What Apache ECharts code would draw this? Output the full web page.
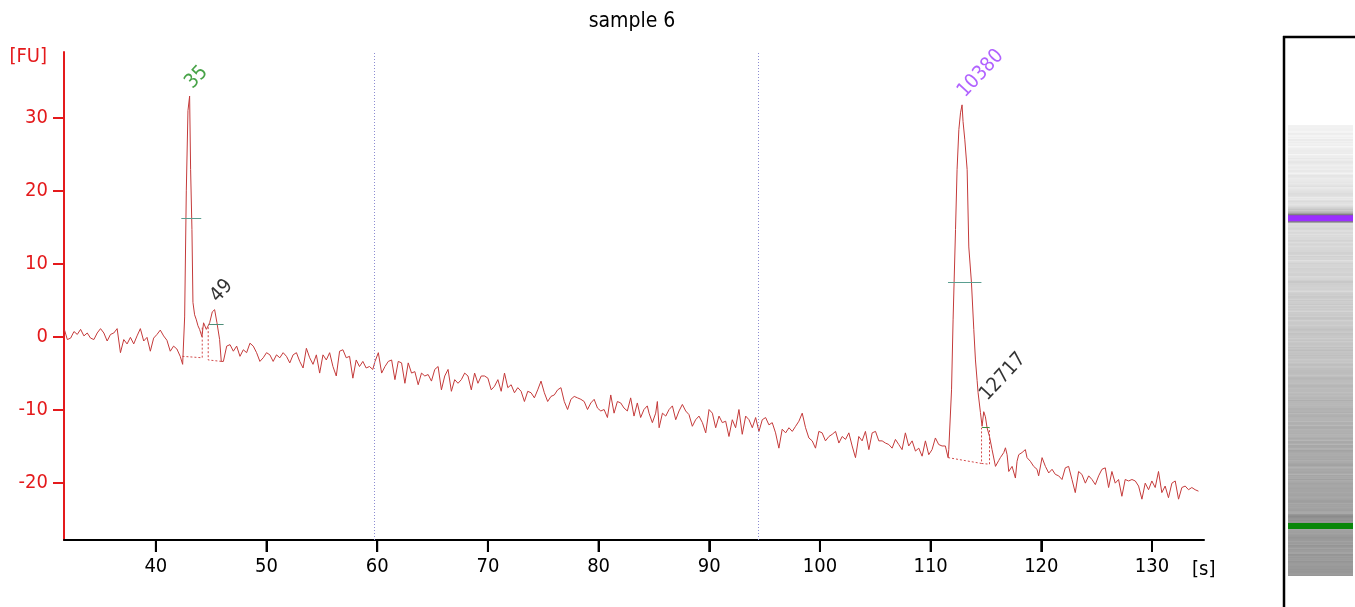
<!DOCTYPE html>
<html>
<head>
<meta charset="utf-8">
<script src="https://cdn.jsdelivr.net/npm/echarts@6.0.0/dist/echarts.min.js"></script>
<style>
    html, body { margin: 0; padding: 0; background: #fff; }
    #main { width: 1355px; height: 607px; }
</style>
</head>
<body>
<div id="main"></div>
<script>
    // electropherogram trace, [time s, FU]
    var segA = [
        [31.75, 0.9], [32.0, -0.4], [32.3, -0.2], [32.6, 0.7], [32.9, 0.3], [33.2, 1.0], [33.5, 0.1],
        [33.8, 0.5], [34.1, -0.2], [34.4, -0.4], [34.7, 0.5], [35.0, 1.1], [35.3, 0.5], [35.6, -0.6],
        [35.9, 0.3], [36.2, 0.5], [36.5, 1.1], [36.8, -2.2], [37.1, -0.4], [37.4, -1.0], [37.7, -0.1],
        [38.0, -1.0], [38.3, 0.1], [38.6, 1.1], [38.9, -0.6], [39.2, -0.1], [39.5, -2.0], [39.8, -0.2],
        [40.1, 0.3], [40.4, 0.9], [40.7, 0.1], [41.0, -0.5], [41.3, -2.0], [41.6, -1.3], [41.9, -1.7],
        [42.2, -2.7]
    ];
    var peak35 = [
        [42.42, -3.8], [42.6, 2.7], [42.75, 20.0], [42.9, 31.0], [43.05, 33.0], [43.14, 22.9],
        [43.26, 14.7], [43.35, 4.7], [43.5, 3.0], [43.66, 2.3], [43.8, 1.5], [43.95, 1.0], [44.16, 0.0],
        [44.31, 1.9], [44.56, 1.0], [44.86, 1.9], [45.1, 3.4], [45.31, 3.7], [45.52, 1.9], [45.76, -0.4],
        [45.91, -3.4], [46.1, -3.4]
    ];
    var segB = [
        [46.4, -1.3], [46.7, -1.1], [47.0, -2.0], [47.3, -1.3], [47.6, -2.7], [47.9, -1.8], [48.2, -2.2],
        [48.5, -0.9], [48.8, -1.3], [49.1, -2.2], [49.4, -3.4], [49.7, -2.9], [50.0, -2.2], [50.3, -2.5],
        [50.6, -3.4], [50.9, -2.5], [51.2, -2.9], [51.5, -2.2], [51.8, -2.7], [52.1, -3.6], [52.4, -2.5],
        [52.7, -2.2], [53.0, -3.4], [53.3, -4.3], [53.6, -1.6], [53.9, -2.9], [54.2, -3.8], [54.5, -2.5],
        [54.8, -5.0], [55.1, -2.5], [55.4, -3.2], [55.7, -2.2], [56.0, -4.1], [56.3, -5.4], [56.6, -2.0],
        [56.9, -1.8], [57.2, -2.9]
    ];
    var segC = [
        [57.5, -2.7], [57.8, -5.7], [58.1, -3.2], [58.4, -4.1], [58.7, -3.4], [59.0, -4.3], [59.3, -4.1],
        [59.6, -4.5], [59.8, -3.4], [60.1, -2.2], [60.4, -5.0], [60.7, -4.1], [61.0, -3.4], [61.3, -3.2],
        [61.6, -5.9], [61.9, -3.4], [62.2, -3.6], [62.5, -6.4], [62.8, -3.6], [63.1, -5.0], [63.4, -4.8],
        [63.7, -6.6], [64.0, -5.0], [64.3, -5.4], [64.6, -5.2], [64.9, -6.1], [65.2, -4.5], [65.5, -4.1],
        [65.8, -7.3], [66.1, -5.4], [66.4, -4.5], [66.7, -7.5], [67.0, -5.9], [67.3, -6.4], [67.6, -5.9],
        [67.9, -5.0], [68.2, -5.4], [68.5, -7.3], [68.8, -5.0], [69.1, -6.4], [69.4, -5.4], [69.7, -5.4],
        [70.0, -5.7], [70.3, -7.3], [70.6, -6.8], [70.9, -5.9], [71.2, -7.5], [71.5, -5.0], [71.8, -7.0],
        [72.1, -6.6], [72.4, -7.7], [72.7, -7.0], [73.0, -7.5], [73.3, -8.9], [73.6, -7.5], [73.9, -7.7],
        [74.2, -8.4], [74.5, -7.3], [74.8, -6.1], [75.1, -7.7], [75.4, -8.9], [75.7, -8.2], [76.0, -8.0],
        [76.3, -7.3], [76.6, -7.0], [76.9, -8.9], [77.2, -10.0], [77.5, -8.6], [77.8, -8.2], [78.1, -8.4],
        [78.4, -8.6], [78.7, -8.9], [79.0, -10.0], [79.3, -9.1], [79.6, -8.6], [79.9, -9.8], [80.2, -10.2],
        [80.5, -10.0], [80.8, -11.1], [81.1, -8.0], [81.4, -10.5], [81.7, -8.9], [82.0, -9.1], [82.3, -9.8],
        [82.6, -10.2], [82.9, -8.4], [83.2, -10.9], [83.5, -9.1], [83.8, -11.1], [84.1, -10.0], [84.4, -9.5]
    ];
    var segD = [
        [84.56, -10.5], [84.86, -11.8], [85.16, -10.5], [85.31, -8.9], [85.47, -12.5], [85.77, -10.5],
        [86.07, -10.9], [86.37, -10.0], [86.67, -9.5], [86.97, -11.4], [87.27, -10.2], [87.57, -9.3],
        [87.87, -10.2], [88.17, -10.7], [88.47, -12.3], [88.77, -11.4], [89.07, -10.9], [89.38, -11.8],
        [89.68, -13.2], [89.98, -10.0], [90.28, -10.5], [90.58, -12.5], [90.88, -10.9], [91.18, -11.8],
        [91.48, -11.6], [91.78, -13.7], [92.08, -11.4], [92.38, -12.5], [92.68, -10.0], [92.98, -13.4],
        [93.29, -10.9], [93.59, -11.4], [93.89, -12.5], [94.19, -11.1], [94.49, -13.0], [94.79, -11.4],
        [95.09, -11.1], [95.39, -12.1], [95.69, -11.8], [95.99, -13.2], [96.29, -15.3], [96.59, -12.7],
        [96.9, -13.2], [97.2, -12.5], [97.5, -13.0], [97.8, -12.3], [98.1, -11.6], [98.4, -10.5],
        [98.7, -12.5], [99.0, -13.9], [99.3, -14.3], [99.6, -15.3], [99.9, -13.0], [100.2, -13.2],
        [100.5, -14.3], [100.81, -13.7], [101.11, -13.4], [101.41, -13.0], [101.71, -14.6], [102.01, -13.7],
        [102.31, -14.1], [102.61, -13.2], [102.91, -15.0], [103.21, -16.6], [103.51, -13.7], [103.81, -14.3],
        [104.11, -13.0], [104.42, -15.5], [104.72, -13.2], [105.02, -13.0], [105.32, -14.3], [105.62, -14.3],
        [105.92, -14.6], [106.22, -14.8], [106.52, -15.3], [106.82, -14.1], [107.12, -14.8], [107.42, -15.5],
        [107.72, -13.2], [108.02, -15.0], [108.33, -14.3], [108.63, -15.7], [108.93, -15.3], [109.23, -16.4],
        [109.53, -14.3], [109.83, -16.2], [110.13, -15.5], [110.43, -13.9], [110.73, -14.8], [111.03, -15.0],
        [111.33, -15.0]
    ];
    var peak10380 = [
        [111.58, -16.6], [111.64, -15.5], [111.89, -7.3], [112.03, 2.3], [112.25, 14.7], [112.39, 22.9],
        [112.55, 28.4], [112.7, 30.7], [112.84, 31.8], [112.93, 29.5], [113.09, 27.0], [113.3, 22.9],
        [113.45, 12.3], [113.69, 7.4], [113.9, 1.0], [114.05, -3.2], [114.12, -3.4], [114.2, -6.0],
        [114.29, -7.7], [114.5, -10.4], [114.65, -12.3], [114.8, -10.3], [114.95, -11.0], [115.1, -12.5],
        [115.32, -13.7], [115.55, -15.5], [115.86, -17.8]
    ];
    var segE = [
        [116.15, -17.0], [116.3, -16.6], [116.61, -15.9], [116.76, -15.25], [116.91, -16.2], [117.06, -18.5],
        [117.36, -17.8], [117.66, -19.4], [117.81, -17.1], [117.96, -16.2], [118.26, -15.9], [118.56, -15.5],
        [118.71, -16.6], [119.01, -17.1], [119.31, -17.8], [119.61, -18.2], [119.76, -19.1], [120.07, -16.6],
        [120.37, -17.8], [120.67, -18.7], [120.97, -18.2], [121.27, -18.9], [121.57, -19.1], [121.87, -19.6],
        [122.17, -18.0], [122.47, -17.8], [122.77, -19.6], [123.07, -21.4], [123.37, -18.5], [123.67, -18.9],
        [123.98, -20.1], [124.28, -19.1], [124.58, -19.6], [124.88, -20.3], [125.18, -19.1], [125.48, -18.2],
        [125.78, -18.0], [126.08, -20.7], [126.38, -18.5], [126.68, -20.1], [126.98, -19.6], [127.28, -21.9],
        [127.58, -19.6], [127.89, -19.8], [128.19, -19.6], [128.49, -19.8], [128.79, -20.5], [129.09, -22.3],
        [129.39, -20.1], [129.69, -21.0], [129.99, -19.8], [130.29, -20.7], [130.59, -18.5], [130.89, -21.4],
        [131.19, -20.5], [131.49, -22.1], [131.8, -20.1], [132.1, -19.8], [132.4, -22.3], [132.7, -20.7],
        [133.0, -20.5], [133.3, -21.0], [133.6, -20.7], [133.9, -21.0], [134.2, -21.2]
    ];

    // called peaks
    var peakTime = [43.05, 45.31, 112.84, 114.85];
    var peakFU = [33.0, 3.7, 31.8, -9.8];
    var peakSize = ['35', '49', '10380', '12717'];
    // width at half height: [from s, to s, FU]
    var peakHalf = [[42.3, 44.1, 16.3], [44.79, 46.12, 1.7], [111.57, 114.59, 7.5], [114.65, 115.32, -12.5]];
    // integration baselines and borders
    var peakBase = [
        [[42.4, -2.7], [44.19, -2.9], [44.19, 1.4]],
        [[44.73, 1.3], [44.73, -3.2], [45.94, -3.4]],
        [[111.58, -16.6], [114.6, -17.4], [114.6, -12.5]],
        [[114.6, -17.4], [115.32, -17.5], [115.32, -12.5]]
    ];
    // smear region borders
    var regionBounds = [59.73, 94.45];
    // marker bands in the gel lane (lower and upper marker)
    var markerTime = [43.05, 112.84];

    var xTicks = [40, 50, 60, 70, 80, 90, 100, 110, 120, 130];
    var yTicks = [-20, -10, 0, 10, 20, 30];

    var X_MIN = 31.7, X_MAX = 134.7, Y_MIN = -27.9, Y_MAX = 39.05;
    var FONT = "'DejaVu Sans Condensed', 'DejaVu Sans', sans-serif";
    var RED = '#e41a1c';
    var TRACE = '#c43a3a';
    var labelColors = ['#1a8c1a', '#000000', '#9d3cff', '#000000'];
    var halfColors = ['#5a9e90', '#4f8f7a', '#5a9e90', '#3a8a3a'];
    var markerColors = ['#0a870a', '#9b30ff'];

    var trace = [].concat(segA, peak35, segB, segC, segD, peak10380, segE);

    var gelData = [];
    for (var i = 0; i < trace.length - 1; i++) {
        gelData.push([trace[i][0], trace[i + 1][0], trace[i][1]]);
    }

    var chart = echarts.init(document.getElementById('main'));
    var option = {
        animation: false,
        title: {
            text: 'sample 6',
            left: 627,
            textAlign: 'center',
            top: 6,
            textStyle: { fontFamily: FONT, fontSize: 21, fontWeight: 'normal', color: '#000' }
        },
        grid: [
            { left: 64, right: 151, top: 52, bottom: 67 },
            { left: 1288, width: 65, top: 125, height: 451 }
        ],
        xAxis: [{
            type: 'value',
            gridIndex: 0,
            min: X_MIN,
            max: X_MAX,
            axisLine: { onZero: false, lineStyle: { color: '#000', width: 2 } },
            axisTick: { show: true, length: 12, lineStyle: { color: '#000', width: 2 }, customValues: xTicks },
            axisLabel: { color: '#000', fontFamily: FONT, fontSize: 20, margin: 17, customValues: xTicks },
            splitLine: { show: false }
        }, {
            type: 'value',
            gridIndex: 1,
            min: 0,
            max: 1,
            show: false
        }],
        yAxis: [{
            type: 'value',
            gridIndex: 0,
            min: Y_MIN,
            max: Y_MAX,
            name: '[FU]',
            nameLocation: 'end',
            nameGap: -5,
            nameTextStyle: { fontFamily: FONT, fontSize: 20, color: RED, align: 'right', verticalAlign: 'middle', padding: [0, 17, 0, 0] },
            axisLine: { lineStyle: { color: RED, width: 2 } },
            axisTick: { show: true, length: 11, lineStyle: { color: RED, width: 2 }, customValues: yTicks },
            axisLabel: { color: RED, fontFamily: FONT, fontSize: 20, margin: 16, customValues: yTicks },
            splitLine: { show: false }
        }, {
            type: 'value',
            gridIndex: 1,
            min: 31.7,
            max: 134.0,
            show: false
        }],
        graphic: [
            { type: 'line', shape: { x1: 1284, y1: 36, x2: 1284, y2: 607 }, style: { stroke: '#000', lineWidth: 2.5 } },
            { type: 'line', shape: { x1: 1283, y1: 37, x2: 1355, y2: 37 }, style: { stroke: '#000', lineWidth: 2.5 } },
            {
                type: 'text', left: 1192, top: 560,
                style: { text: '[s]', fill: '#000', font: '20px ' + FONT }
            }
        ],
        series: [
            {
                type: 'line',
                data: trace,
                symbol: 'none',
                lineStyle: { color: TRACE, width: 1 },
                z: 3,
                markLine: {
                    silent: true,
                    symbol: 'none',
                    label: { show: false },
                    lineStyle: { color: '#8c8cd2', type: [1, 2], width: 1 },
                    data: regionBounds.map(function (t) { return { xAxis: t }; })
                }
            },
            {
                // x tick marks below the axis line, placed through the axis scale
                type: 'custom',
                silent: true,
                clip: false,
                z: 10,
                data: xTicks.map(function (t) { return [t, Y_MIN]; }),
                renderItem: function (params, api) {
                    var p = api.coord([api.value(0), api.value(1)]);
                    return {
                        type: 'line',
                        shape: { x1: p[0], y1: p[1], x2: p[0], y2: p[1] + 12 },
                        style: { stroke: '#000', lineWidth: 2 }
                    };
                }
            },
            {
                type: 'lines',
                coordinateSystem: 'cartesian2d',
                polyline: true,
                silent: true,
                lineStyle: { color: '#d24a4a', width: 1, type: [2, 2], opacity: 1 },
                data: peakBase.map(function (c) { return { coords: c }; }),
                z: 2
            },
            {
                type: 'lines',
                coordinateSystem: 'cartesian2d',
                silent: true,
                data: peakHalf.map(function (h, i) {
                    return {
                        coords: [[h[0], h[2]], [h[1], h[2]]],
                        lineStyle: { color: halfColors[i], width: 1, opacity: 1 }
                    };
                }),
                z: 4
            },
            {
                type: 'scatter',
                symbolSize: 1,
                itemStyle: { color: 'rgba(0,0,0,0)' },
                data: peakTime.map(function (t, i) {
                    return { value: [t, peakFU[i]], label: { color: labelColors[i] } };
                }),
                label: {
                    show: true,
                    formatter: function (p) { return peakSize[p.dataIndex]; },
                    rotate: 47,
                    position: [7, -3],
                    align: 'left',
                    verticalAlign: 'bottom',
                    fontFamily: FONT,
                    fontSize: 20
                },
                z: 5
            },
            {
                type: 'custom',
                xAxisIndex: 1,
                yAxisIndex: 1,
                clip: true,
                silent: true,
                data: gelData,
                renderItem: function (params, api) {
                    var a = api.coord([0, api.value(1)]);
                    var b = api.coord([1, api.value(0)]);
                    var g = Math.round(154 - 4.2 * api.value(2));
                    g = Math.max(110, Math.min(246, g));
                    return {
                        type: 'rect',
                        shape: { x: a[0], y: a[1], width: b[0] - a[0], height: b[1] - a[1] + 0.6 },
                        style: { fill: 'rgb(' + g + ',' + g + ',' + g + ')' }
                    };
                }
            },
            {
                type: 'custom',
                xAxisIndex: 1,
                yAxisIndex: 1,
                silent: true,
                data: markerTime.map(function (t) { return [t]; }),
                renderItem: function (params, api) {
                    var a = api.coord([0, api.value(0)]);
                    var b = api.coord([1, api.value(0)]);
                    return {
                        type: 'rect',
                        shape: { x: a[0], y: a[1] - 3, width: b[0] - a[0], height: 6 },
                        style: { fill: markerColors[params.dataIndex] }
                    };
                },
                z: 3
            }
        ]
    };
    chart.setOption(option);
</script>
</body>
</html>
